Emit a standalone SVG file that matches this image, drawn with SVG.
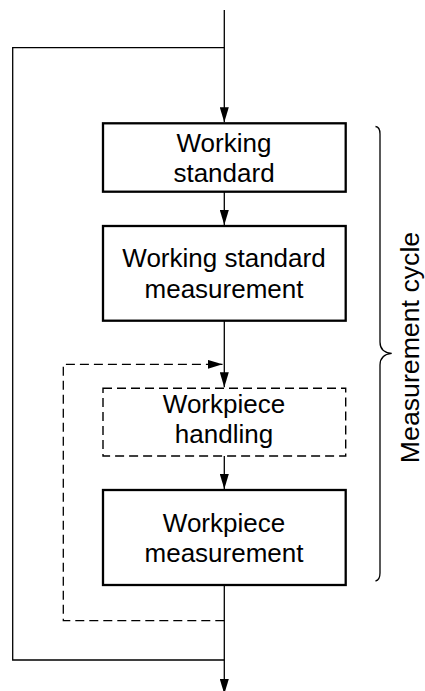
<svg xmlns="http://www.w3.org/2000/svg" width="425" height="691" viewBox="0 0 425 691">
  <style>
    .box { fill: #fff; stroke: #000; stroke-width: 2.3; }
    .box.dash { stroke-width: 1.4; stroke-dasharray: 9 5; }
    .line { fill: none; stroke: #000; stroke-width: 1.3; }
    .line.dash { stroke-dasharray: 9 5; }
    text { font-family: "Liberation Sans", Arial, sans-serif; font-size: 26px; fill: #000; text-anchor: middle; }
    .side { font-size: 26.7px; }
  </style>
  <defs>
    <marker id="arrow" viewBox="0 0 15 9" refX="15" refY="4.5" markerWidth="15" markerHeight="9" markerUnits="userSpaceOnUse" orient="auto">
      <path d="M0,0 L15,4.5 L0,9 Z" fill="#000"/>
    </marker>
  </defs>
  <rect width="425" height="691" fill="#fff"/>

  <!-- connectors -->
  <g id="connectors">
    <line class="line" x1="224.3" y1="10" x2="224.3" y2="122.3" marker-end="url(#arrow)"/>
    <line class="line" x1="224.3" y1="191.7" x2="224.3" y2="225" marker-end="url(#arrow)"/>
    <line class="line" x1="224.3" y1="320.7" x2="224.3" y2="387.3" marker-end="url(#arrow)"/>
    <line class="line" x1="224.3" y1="456" x2="224.3" y2="489" marker-end="url(#arrow)"/>
    <line class="line" x1="224.3" y1="585" x2="224.3" y2="694" marker-end="url(#arrow)"/>
    <!-- outer return loop -->
    <path class="line" d="M224.3,47.7 H12.7 V660 H224.3"/>
    <!-- workpiece repeat loop -->
    <path class="line dash" d="M224.3,620.7 H63.3 V364.3 H222.5" marker-end="url(#arrow)"/>
  </g>

  <g id="working-standard">
    <rect class="box" x="103" y="123.3" width="242.7" height="68.4"/>
    <text x="224" y="151.7">Working</text>
    <text x="224" y="181.7">standard</text>
  </g>

  <g id="working-standard-measurement">
    <rect class="box" x="103" y="226" width="242.7" height="94.7"/>
    <text x="224" y="266.7">Working standard</text>
    <text x="224" y="297.7">measurement</text>
  </g>

  <g id="workpiece-handling">
    <rect class="box dash" x="103" y="388.3" width="242.7" height="67.7"/>
    <text x="224" y="412.7">Workpiece</text>
    <text x="224" y="442.7">handling</text>
  </g>

  <g id="workpiece-measurement">
    <rect class="box" x="103" y="490" width="242.7" height="95"/>
    <text x="224" y="531.7">Workpiece</text>
    <text x="224" y="561.7">measurement</text>
  </g>

  <g id="measurement-cycle">
    <path class="line" d="M375.5,126.5 Q380,127 380,134 L380,342 Q380,352.5 391.7,353.3 Q380,354.5 380,365 L380,573 Q380,580 375.5,581"/>
    <text class="side" transform="translate(419,347.5) rotate(-90)">Measurement cycle</text>
  </g>
</svg>
